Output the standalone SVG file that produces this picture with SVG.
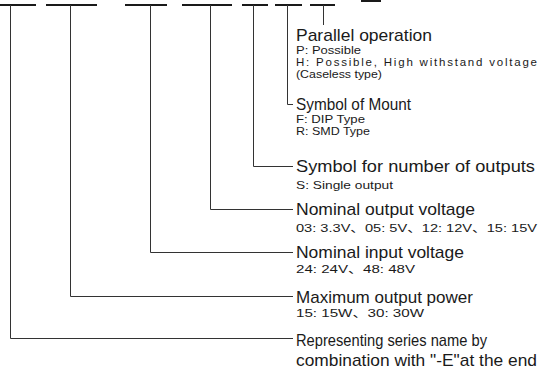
<svg xmlns="http://www.w3.org/2000/svg" width="541" height="370" viewBox="0 0 541 370">
<style>
text{font-family:"Liberation Sans","Noto Sans CJK JP",sans-serif;fill:#1a1a1a}
.h{font-size:17px}
.s{font-size:11.5px}
.c{fill:none;stroke:#333;stroke-width:1}
.u{stroke:#1a1a1a;stroke-width:2}
</style>
<rect width="541" height="370" fill="#fff"/>
<g id="underlines">
<line class="u" x1="0" y1="5" x2="36" y2="5"/>
<line class="u" x1="46" y1="5" x2="97" y2="5"/>
<line class="u" x1="125" y1="5" x2="167" y2="5"/>
<line class="u" x1="182" y1="5" x2="232" y2="5"/>
<line class="u" x1="242" y1="5" x2="268" y2="5"/>
<line class="u" x1="275" y1="5" x2="302" y2="5"/>
<line class="u" x1="310" y1="5" x2="335" y2="5"/>
<rect x="361" y="0" width="20" height="2" fill="#1a1a1a"/>
</g>
<g id="connectors">
<path class="c" d="M323.5 5V25"/>
<path class="c" d="M287.5 5V104.5H293"/>
<path class="c" d="M253.5 5V166.5H293"/>
<path class="c" d="M210.5 5V209.5H293"/>
<path class="c" d="M150.5 5V252.5H293"/>
<path class="c" d="M70.5 5V296.5H293"/>
<path class="c" d="M10.5 5V338.5H293"/>
</g>
<g id="parallel">
<text class="h" x="296" y="41" textLength="136" lengthAdjust="spacingAndGlyphs">Parallel operation</text>
<text class="s" x="296" y="54" textLength="65" lengthAdjust="spacingAndGlyphs">P: Possible</text>
<text class="s" x="296" y="66" textLength="241" lengthAdjust="spacing">H: Possible, High withstand voltage</text>
<text class="s" x="296" y="78" textLength="86" lengthAdjust="spacingAndGlyphs">(Caseless type)</text>
</g>
<g id="mount">
<text class="h" x="296" y="110" textLength="115" lengthAdjust="spacingAndGlyphs">Symbol of Mount</text>
<text class="s" x="296" y="123" textLength="69" lengthAdjust="spacingAndGlyphs">F: DIP Type</text>
<text class="s" x="296" y="135" textLength="74" lengthAdjust="spacingAndGlyphs">R: SMD Type</text>
</g>
<g id="outputs">
<text class="h" x="296" y="172" textLength="239" lengthAdjust="spacingAndGlyphs">Symbol for number of outputs</text>
<text class="s" x="296" y="189" textLength="97" lengthAdjust="spacingAndGlyphs">S: Single output</text>
</g>
<g id="outvolt">
<text class="h" x="296" y="215" textLength="179" lengthAdjust="spacingAndGlyphs">Nominal output voltage</text>
<text class="s" x="296" y="232" textLength="241" lengthAdjust="spacingAndGlyphs">03: 3.3V、05: 5V、12: 12V、15: 15V</text>
</g>
<g id="involt">
<text class="h" x="296" y="258" textLength="168" lengthAdjust="spacingAndGlyphs">Nominal input voltage</text>
<text class="s" x="296" y="273" textLength="119" lengthAdjust="spacingAndGlyphs">24: 24V、48: 48V</text>
</g>
<g id="power">
<text class="h" x="296" y="303" textLength="177" lengthAdjust="spacingAndGlyphs">Maximum output power</text>
<text class="s" x="296" y="317" textLength="128" lengthAdjust="spacingAndGlyphs">15: 15W、30: 30W</text>
</g>
<g id="series">
<text class="h" x="296" y="346" textLength="191" lengthAdjust="spacingAndGlyphs">Representing series name by</text>
<text class="h" x="296" y="366" textLength="241" lengthAdjust="spacingAndGlyphs">combination with "-E"at the end</text>
</g>
</svg>
